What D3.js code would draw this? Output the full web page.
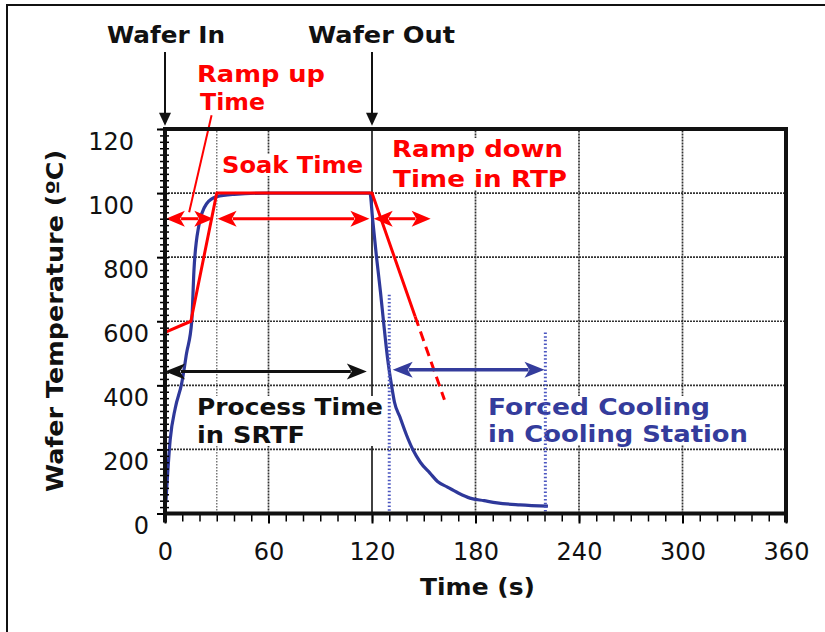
<!DOCTYPE html>
<html>
<head>
<meta charset="UTF-8">
<script src="https://d3js.org/d3.v7.min.js"></script>
<style>
  body { margin: 0; background: #fff; }
  text { font-family: "DejaVu Sans", "Liberation Sans", Arial, sans-serif; }
  .lbl { font-weight: bold; font-size: 23px; }
</style>
</head>
<body>
<svg width="825" height="632"></svg>
<script>
// axis ticks
const xTicks = [0, 60, 120, 180, 240, 300, 360];
const yTicks = [0, 200, 400, 600, 800, 1000, 1200];
const yTickLabels = ["0", "200", "400", "600", "800", "100", "120"];
const gridX = [60, 180, 240, 300];
const gridY = [200, 400, 600, 800, 1000];

// RTP recipe (red) and its extrapolated ramp down
const recipeTime = [0, 15, 30, 120, 145];
const recipeTemp = [565, 600, 1000, 1000, 615];
const rampDownTime = [145, 162];
const rampDownTemp = [615, 355];

// measured wafer temperature (blue)
const waferTime = [0.5, 3, 6, 9.7, 12.5, 15.5, 16.8, 19.5, 24, 30, 40, 60, 118.8,
  120.3, 122.6, 124.9, 126.7, 129, 131.3, 133, 136.2, 140, 143.8, 148, 153.6,
  158, 163.5, 170, 176.8, 185, 192.5, 205.8, 222];
const waferTemp = [35, 230, 330, 407, 500, 600, 760, 895, 966, 989, 996, 1000, 1000,
  922, 801, 692, 598, 485, 401, 348, 301, 245, 198, 160, 126,
  100, 83, 64, 48, 40, 33, 27, 23];

// event times
const waferIn = 0, waferOut = 120, soakStart = 30;
const coolLines = [130, 220.5];
const coolLineTop = [683, 565];

// double arrows: [start, end] in s, at a temperature
const redArrowTemp = 920;
const redArrows = [[0.5, 28], [30.5, 118.5], [121, 154]];
const processArrow = [0, 117], processTemp = 443;
const coolArrow = [132, 220], coolTemp = 449;

const svg = d3.select("svg");
const x = d3.scaleLinear().domain([0, 360]).range([165, 786]);
const y = d3.scaleLinear().domain([0, 1200]).range([513.5, 129]);

// outer frame (top and left only)
svg.append("path").attr("d", "M7,632V5H825")
  .attr("fill", "none").attr("stroke", "#111").attr("stroke-width", 2);

// grid
const grid = svg.append("g");
grid.selectAll(".gy").data(gridY).join("line")
  .attr("x1", x(0)).attr("x2", x(360)).attr("y1", d => y(d)).attr("y2", d => y(d))
  .attr("stroke", "#333").attr("stroke-width", 1.7).attr("stroke-dasharray", "2,1");
grid.selectAll(".gx").data(gridX).join("line")
  .attr("x1", d => x(d)).attr("x2", d => x(d)).attr("y1", y(0)).attr("y2", y(1200))
  .attr("stroke", "#333").attr("stroke-width", 1.7).attr("stroke-dasharray", "2,1");
grid.append("line")
  .attr("x1", x(soakStart)).attr("x2", x(soakStart)).attr("y1", y(0)).attr("y2", y(1200))
  .attr("stroke", "#777").attr("stroke-width", 1.5).attr("stroke-dasharray", "1.5,1.5");
grid.append("line")
  .attr("x1", x(waferOut)).attr("x2", x(waferOut)).attr("y1", y(0)).attr("y2", y(1200))
  .attr("stroke", "#111").attr("stroke-width", 1.6);

// text labels with white boxes
const red = "#ff0000", blue = "#343c9c", black = "#111";
function label(lines, color, boxed) {
  const g = svg.append("g");
  lines.forEach(l => {
    g.append("text").attr("class", "lbl")
      .attr("x", l[1]).attr("y", l[2])
      .attr("textLength", l[3]).attr("lengthAdjust", "spacingAndGlyphs")
      .attr("fill", color).text(l[0]);
  });
  if (boxed) {
    const b = g.node().getBBox();
    g.insert("rect", "text").attr("x", b.x - 3).attr("y", b.y + 2)
      .attr("width", b.width + 6).attr("height", b.height - 4).attr("fill", "#fff");
  }
}
label([["Wafer In", 107, 43, 118], ["Wafer Out", 308, 43, 147]], black, false);
label([["Ramp up", 197, 82, 128], ["Time", 200, 110, 65]], red, false);
label([["Soak Time", 222, 173, 141]], red, true);
label([["Ramp down", 392, 157, 171], ["Time in RTP", 393, 187, 174]], red, true);
label([["Process Time", 197, 415, 186], ["in SRTF", 197, 443, 108]], black, true);
label([["Forced Cooling", 488, 415, 222], ["in Cooling Station", 488, 442, 260]], blue, true);
label([["Time (s)", 420, 595, 115]], black, false);

svg.append("text").attr("class", "lbl")
  .attr("transform", "translate(63,321) rotate(-90)")
  .attr("text-anchor", "middle").attr("font-size", "27px")
  .attr("textLength", 342).attr("lengthAdjust", "spacingAndGlyphs")
  .attr("fill", black).text("Wafer Temperature (ºC)");

// curves
const line = d3.line().x(d => x(d[0])).y(d => y(d[1]));
svg.append("path")
  .attr("d", line.curve(d3.curveMonotoneX)(d3.zip(waferTime, waferTemp)))
  .attr("fill", "none").attr("stroke", "#2e389a").attr("stroke-width", 3.2);
svg.append("path")
  .attr("d", d3.line().x(d => x(d[0])).y(d => y(d[1]))(d3.zip(recipeTime, recipeTemp)))
  .attr("fill", "none").attr("stroke", red).attr("stroke-width", 3).attr("stroke-linejoin", "round");
svg.append("path")
  .attr("d", d3.line().x(d => x(d[0])).y(d => y(d[1]))(d3.zip(rampDownTime, rampDownTemp)))
  .attr("fill", "none").attr("stroke", red).attr("stroke-width", 3).attr("stroke-dasharray", "10,6");

// red leader from "Ramp up Time"
svg.append("line")
  .attr("x1", x(27)).attr("y1", y(1243)).attr("x2", x(14)).attr("y2", y(940))
  .attr("stroke", red).attr("stroke-width", 2);

// cooling station markers
svg.selectAll(".cool").data(coolLines).join("line")
  .attr("x1", d => x(d)).attr("x2", d => x(d))
  .attr("y1", (d, i) => y(coolLineTop[i])).attr("y2", y(0))
  .attr("stroke", "#4a55c0").attr("stroke-width", 3).attr("stroke-dasharray", "1.5,2.2");

// arrows
function dblArrow(x1, x2, yy, color, w, len, half) {
  const g = svg.append("g").attr("fill", color);
  g.append("line").attr("x1", x1 + len * 0.8).attr("x2", x2 - len * 0.8)
    .attr("y1", yy).attr("y2", yy).attr("stroke", color).attr("stroke-width", w);
  g.append("path").attr("d", `M${x1},${yy}L${x1 + len},${yy - half}L${x1 + len * 0.75},${yy}L${x1 + len},${yy + half}Z`);
  g.append("path").attr("d", `M${x2},${yy}L${x2 - len},${yy - half}L${x2 - len * 0.75},${yy}L${x2 - len},${yy + half}Z`);
}
redArrows.forEach(a => dblArrow(x(a[0]), x(a[1]), y(redArrowTemp), red, 3, 19, 8));
dblArrow(x(processArrow[0]), x(processArrow[1]), y(processTemp), black, 3, 20, 8);
dblArrow(x(coolArrow[0]), x(coolArrow[1]), y(coolTemp), blue, 3.5, 20, 8);

// wafer in / out arrows
[waferIn, waferOut].forEach(t => {
  const xx = x(t), top = y(1440), tip = y(1210);
  svg.append("line").attr("x1", xx).attr("x2", xx).attr("y1", top).attr("y2", tip - 10)
    .attr("stroke", black).attr("stroke-width", 2);
  svg.append("path").attr("d", `M${xx},${tip}L${xx - 6},${tip - 13}L${xx + 6},${tip - 13}Z`)
    .attr("fill", black);
});

// axes
const yMinor = svg.append("g").attr("transform", `translate(${x(0) + 4},0)`)
  .call(d3.axisLeft(y).tickValues(d3.range(0, 1201, 20)).tickSize(9).tickFormat(""));
yMinor.select(".domain").remove();
yMinor.selectAll("line").attr("stroke-width", 1.5);

const yAx = svg.append("g").attr("transform", `translate(${x(0)},0)`)
  .call(d3.axisLeft(y).tickValues(yTicks).tickSize(8).tickFormat((d, i) => yTickLabels[i]));
yAx.select(".domain").remove();
yAx.selectAll("line").attr("stroke-width", 2);
yAx.selectAll("text")
  .attr("font-size", "24px").attr("fill", black)
  .attr("font-family", "DejaVu Sans, sans-serif")
  .attr("dy", null).attr("y", 20)
  .attr("x", d => d >= 1000 ? -31 : -16);

const xMinor = svg.append("g").attr("transform", `translate(0,${y(0) + 1})`)
  .call(d3.axisBottom(x).tickValues(d3.range(0, 361, 10)).tickSize(7).tickFormat(""));
xMinor.select(".domain").remove();
xMinor.selectAll("line").attr("stroke-width", 1.5);

const xAx = svg.append("g").attr("transform", `translate(0,${y(0) + 1})`)
  .call(d3.axisBottom(x).tickValues(xTicks).tickSize(9));
xAx.select(".domain").remove();
xAx.selectAll("line").attr("stroke-width", 2);
xAx.selectAll("text")
  .attr("font-size", "24px").attr("fill", black)
  .attr("font-family", "DejaVu Sans, sans-serif")
  .attr("dy", null).attr("y", 45);

// plot frame: thick axes and border
svg.append("line").attr("x1", x(0)).attr("x2", x(0)).attr("y1", y(1200) - 2).attr("y2", y(0) + 9)
  .attr("stroke", black).attr("stroke-width", 4);
svg.append("line").attr("x1", x(0) - 2).attr("x2", x(360) + 2).attr("y1", y(0)).attr("y2", y(0))
  .attr("stroke", black).attr("stroke-width", 4);
svg.append("line").attr("x1", x(0) - 2).attr("x2", x(360) + 2).attr("y1", y(1200)).attr("y2", y(1200))
  .attr("stroke", black).attr("stroke-width", 4);
svg.append("line").attr("x1", x(360)).attr("x2", x(360)).attr("y1", y(1200) - 2).attr("y2", y(0) + 9)
  .attr("stroke", black).attr("stroke-width", 4);
</script>
</body>
</html>
